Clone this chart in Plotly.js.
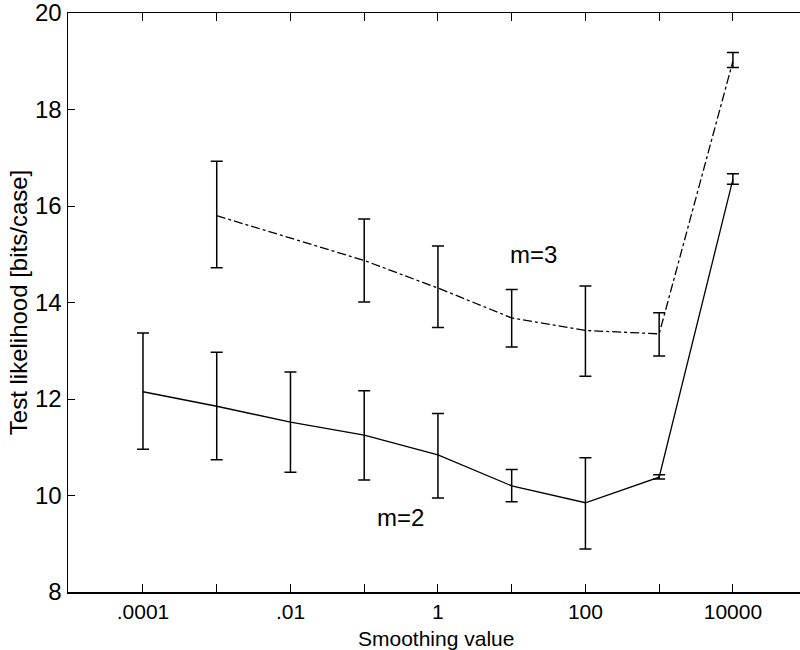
<!DOCTYPE html>
<html>
<head>
<meta charset="utf-8">
<script src="https://cdn.plot.ly/plotly-3.0.1.min.js"></script>
<style>html,body{margin:0;padding:0;background:#fff;}</style>
</head>
<body>
<div id="chart" style="width:800px;height:650px;"></div>
<script>
// Smoothing values (x) and test likelihood (bits/case)
const smoothM2 = [0.0001, 0.001, 0.01, 0.1, 1, 10, 100, 1000, 10000];
const meanM2   = [12.15, 11.85, 11.52, 11.25, 10.84, 10.20, 9.85, 10.38, 16.55];
const upperM2  = [13.37, 12.97, 12.56, 12.17, 11.70, 10.54, 10.78, 10.43, 16.67];
const lowerM2  = [10.96, 10.74, 10.48, 10.32, 9.95, 9.87, 8.89, 10.34, 16.45];

const smoothM3 = [0.001, 0.1, 1, 10, 100, 1000, 10000];
const meanM3   = [15.80, 14.87, 14.30, 13.68, 13.42, 13.35, 19.00];
const upperM3  = [16.93, 15.73, 15.17, 14.27, 14.34, 13.79, 19.18];
const lowerM3  = [14.72, 14.01, 13.48, 13.08, 12.47, 12.89, 18.87];

const tickValues = [0.0001, 0.001, 0.01, 0.1, 1, 10, 100, 1000, 10000];
const tickLabels = ['.0001', '', '.01', '', '1', '', '100', '', '10000'];
const yTicks = [8, 10, 12, 14, 16, 18, 20];

function errs(mean, up, lo) {
  return {
    type: 'data', symmetric: false,
    array: up.map((u, i) => u - mean[i]),
    arrayminus: mean.map((m, i) => m - lo[i]),
    color: '#000', thickness: 1.5, width: 6
  };
}

const traces = [
  {
    x: smoothM2, y: meanM2, type: 'scatter', mode: 'lines',
    line: {color: '#000', width: 1.3},
    error_y: errs(meanM2, upperM2, lowerM2), name: 'm=2'
  },
  {
    x: smoothM3, y: meanM3, type: 'scatter', mode: 'lines',
    line: {color: '#000', width: 1.3, dash: 'dashdot'},
    error_y: errs(meanM3, upperM3, lowerM3), name: 'm=3'
  }
];

const font = {family: 'Liberation Sans, Arial, sans-serif', color: '#000', size: 24};
const xTickFont = {family: 'Liberation Sans, Arial, sans-serif', color: '#000', size: 21};
const xTitleFont = {family: 'Liberation Sans, Arial, sans-serif', color: '#000', size: 21};

const layout = {
  width: 800, height: 650,
  margin: {l: 68, r: 0, t: 13, b: 58},
  paper_bgcolor: '#fff', plot_bgcolor: '#fff',
  showlegend: false,
  font: font,
  xaxis: {
    type: 'log', range: [-5.017, 4.91],
    tickmode: 'array', tickvals: tickValues, ticktext: tickLabels,
    ticks: 'inside', ticklen: 8, tickwidth: 1, tickcolor: '#000',
    showline: true, linecolor: '#000', linewidth: 1.5, mirror: 'ticks',
    showgrid: false, zeroline: false,
    tickfont: xTickFont, ticklabelstandoff: 0, ticklabeloverflow: 'allow'
  },
  yaxis: {
    range: [8, 20],
    tickmode: 'array', tickvals: yTicks,
    ticks: 'inside', ticklen: 7, tickwidth: 1, tickcolor: '#000',
    showline: true, linecolor: '#000', linewidth: 1.5,
    showgrid: false, zeroline: false,
    tickfont: font, ticklabeloverflow: 'allow',
    title: {text: 'Test likelihood [bits/case]', font: font, standoff: 0}
  },
  annotations: [
    {x: 1.29, y: 15.0, xref: 'x', yref: 'y', text: 'm=3', showarrow: false, font: font},
    {x: -0.51, y: 9.55, xref: 'x', yref: 'y', text: 'm=2', showarrow: false, font: font},
    {x: 0.503, y: 0, xref: 'paper', yref: 'paper', yanchor: 'bottom', yshift: -59,
     text: 'Smoothing value', showarrow: false, font: xTitleFont, borderpad: 0}
  ]
};

Plotly.newPlot('chart', traces, layout, {displayModeBar: false, staticPlot: true});
</script>
</body>
</html>
